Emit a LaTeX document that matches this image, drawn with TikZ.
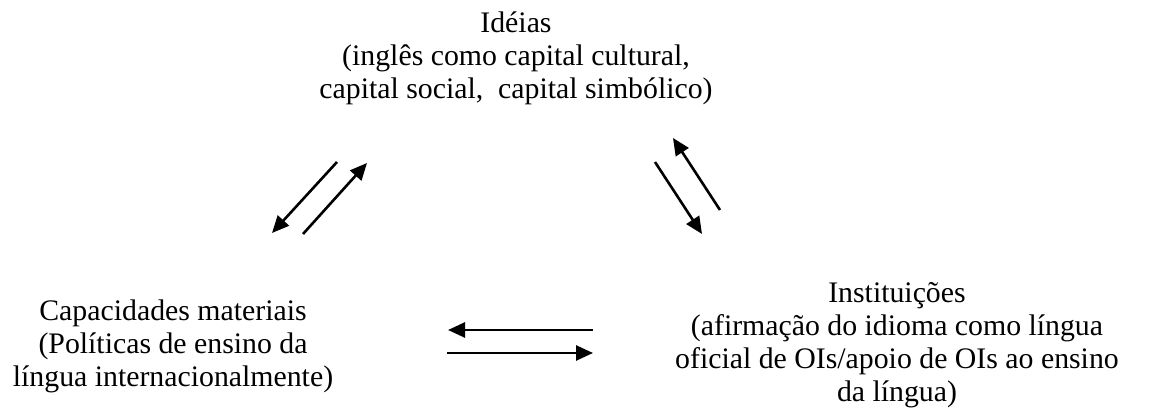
\documentclass[tikz,border=0pt]{standalone}
\usepackage{fontspec}
\setmainfont{Liberation Serif}
\usetikzlibrary{arrows.meta}
\tikzset{
  lbl/.style={align=center, inner sep=0pt, anchor=base, font=\fontsize{29.8}{33}\selectfont},
  arr/.style={line width=2.6pt, -{Triangle[length=17pt,width=15pt]}}
}
\begin{document}
\begin{tikzpicture}[x=1pt,y=-1pt]
\useasboundingbox (0,0) rectangle (1165,414);
\node[lbl] (ideias) at (516,99) {Idéias\\(inglês como capital cultural,\\capital social,\ \ capital simbólico)};
\node[lbl] (cap) at (173,386) {Capacidades materiais\\(Políticas de ensino da\\língua internacionalmente)};
\node[lbl] (inst) at (897,401) {Instituições\\(afirmação do idioma como língua\\oficial de OIs/apoio de OIs ao ensino\\da língua)};
\coordinate (a1s) at (337,162); \coordinate (a1e) at (272,233);
\coordinate (a2s) at (303,234); \coordinate (a2e) at (367,163);
\coordinate (a3s) at (655,162); \coordinate (a3e) at (702,234);
\coordinate (a4s) at (720,210); \coordinate (a4e) at (673,138);
\coordinate (a5s) at (593,330); \coordinate (a5e) at (448,330);
\coordinate (a6s) at (447,353); \coordinate (a6e) at (593,353);
\draw[arr] (a1s) -- (a1e);
\draw[arr] (a2s) -- (a2e);
\draw[arr] (a3s) -- (a3e);
\draw[arr] (a4s) -- (a4e);
\draw[arr] (a5s) -- (a5e);
\draw[arr] (a6s) -- (a6e);
\end{tikzpicture}
\end{document}
